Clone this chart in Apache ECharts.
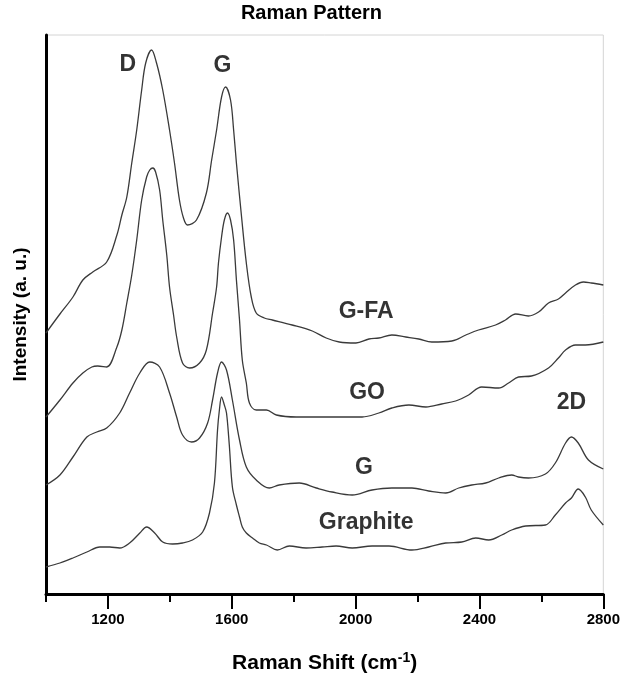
<!DOCTYPE html>
<html>
<head>
<meta charset="utf-8">
<script src="https://cdn.jsdelivr.net/npm/echarts@6/dist/echarts.min.js"></script>
<style>
  html, body { margin: 0; padding: 0; background: #fff; }
  #chart { width: 623px; height: 679px; }
</style>
</head>
<body>
<div id="chart"></div>
<script>
  // raman shift (cm-1), intensity (a.u., curves stacked with an offset)
  var gfa = [
    [1000, 261], [1045, 280], [1087, 297], [1119, 314], [1151, 322], [1196, 332],
    [1229, 359], [1245, 379], [1261, 397], [1277, 431], [1293, 464], [1309, 504],
    [1322, 531], [1341, 544], [1357, 531], [1377, 504], [1399, 464], [1415, 431],
    [1431, 394], [1444, 376], [1457, 369], [1486, 374], [1518, 401], [1535, 434],
    [1551, 464], [1567, 497], [1580, 507], [1596, 494], [1606, 464], [1615, 431],
    [1631, 379], [1647, 331], [1663, 297], [1679, 281], [1705, 276], [1731, 274],
    [1795, 269], [1860, 263], [1905, 256], [1947, 252], [2001, 251], [2043, 255],
    [2075, 256], [2117, 259], [2162, 257], [2204, 255], [2246, 252], [2311, 253],
    [2356, 259], [2397, 264], [2452, 269], [2484, 274], [2517, 280], [2558, 278],
    [2591, 282], [2623, 291], [2655, 295], [2678, 301], [2710, 309], [2736, 312],
    [2761, 311], [2800, 309]
  ];
  var go = [
    [1000, 177], [1045, 194], [1087, 211], [1119, 221], [1148, 227], [1167, 228],
    [1196, 227], [1229, 247], [1245, 264], [1261, 291], [1277, 319], [1293, 354],
    [1309, 394], [1325, 417], [1335, 424], [1345, 426], [1354, 422], [1367, 404],
    [1377, 374], [1390, 339], [1399, 307], [1412, 279], [1422, 257], [1441, 231],
    [1464, 226], [1496, 231], [1518, 244], [1538, 281], [1551, 307], [1557, 331],
    [1567, 357], [1576, 374], [1586, 381], [1596, 374], [1606, 354], [1615, 314],
    [1625, 274], [1634, 234], [1647, 211], [1657, 191], [1679, 184], [1712, 184],
    [1744, 179], [1808, 177], [1914, 177], [2021, 177], [2075, 181], [2117, 186],
    [2172, 189], [2227, 187], [2278, 190], [2323, 193], [2365, 199], [2407, 207],
    [2462, 206], [2494, 211], [2526, 217], [2568, 218], [2623, 226], [2655, 236],
    [2678, 244], [2710, 249], [2742, 249], [2800, 252]
  ];
  var g = [
    [1000, 109], [1045, 119], [1087, 137], [1132, 157], [1164, 162], [1196, 166],
    [1238, 181], [1270, 201], [1303, 221], [1335, 232], [1367, 227], [1399, 201],
    [1422, 177], [1441, 159], [1470, 152], [1496, 156], [1522, 171], [1538, 194],
    [1554, 221], [1567, 232], [1583, 224], [1602, 194], [1625, 154], [1647, 127],
    [1679, 114], [1721, 106], [1753, 109], [1818, 111], [1873, 106], [1924, 102],
    [1989, 99], [2053, 104], [2117, 106], [2182, 106], [2236, 103], [2291, 101],
    [2333, 106], [2375, 109], [2420, 111], [2462, 116], [2504, 119], [2526, 117],
    [2558, 116], [2613, 120], [2645, 131], [2678, 151], [2697, 157], [2719, 151],
    [2752, 134], [2800, 125]
  ];
  var graphite = [
    [1000, 27], [1045, 31], [1087, 36], [1132, 42], [1174, 47], [1206, 47],
    [1238, 46], [1270, 51], [1303, 61], [1325, 67], [1351, 61], [1377, 52],
    [1409, 50], [1441, 51], [1473, 54], [1506, 62], [1528, 81], [1544, 111],
    [1554, 164], [1560, 184], [1567, 197], [1576, 189], [1583, 181], [1592, 149],
    [1602, 107], [1615, 89], [1625, 77], [1634, 67], [1647, 61], [1667, 56],
    [1689, 51], [1712, 49], [1747, 44], [1786, 48], [1840, 46], [1892, 47],
    [1937, 48], [1989, 46], [2053, 48], [2108, 48], [2182, 44], [2236, 47],
    [2291, 51], [2343, 52], [2388, 56], [2430, 54], [2472, 59], [2504, 64],
    [2549, 68], [2613, 69], [2645, 79], [2678, 91], [2697, 96], [2719, 105],
    [2742, 97], [2761, 84], [2800, 69]
  ];

  // text labels in the plot: [shift, intensity, text]
  var notes = [
    [1264, 529, 'D'], [1570, 528, 'G'], [2034, 282, 'G-FA'], [2037, 201, 'GO'],
    [2697, 191, '2D'], [2027, 126, 'G'], [2034, 71, 'Graphite']
  ];

  var tickLabels = ['1000', '1200', '1400', '1600', '1800', '2000', '2200', '2400', '2600', '2800'];

  var font = 'Liberation Sans, Arial, sans-serif';
  var chart = echarts.init(document.getElementById('chart'));

  function line(data) {
    return {
      type: 'line',
      data: data,
      showSymbol: false,
      smooth: 0.35,
      lineStyle: { color: '#3a3a3a', width: 1.3 },
      animation: false
    };
  }

  var series = [line(gfa), line(go), line(g), line(graphite)];
  series.push({
    type: 'scatter',
    symbolSize: 0,
    animation: false,
    data: notes.map(function (n) { return { value: [n[0], n[1]], name: n[2] }; }),
    label: {
      show: true,
      position: 'inside',
      formatter: function (p) { return p.name; },
      color: '#000',
      textBorderWidth: 0,
      fontFamily: font,
      fontWeight: 'bold',
      fontSize: 23
    }
  });

  chart.setOption({
    backgroundColor: '#fff',
    title: {
      text: 'Raman Pattern',
      left: 'center',
      top: -2,
      textStyle: { fontFamily: font, fontWeight: 'bold', fontSize: 20, color: '#000' }
    },
    grid: {
      left: 46, right: 18, top: 35, bottom: 85,
      show: true, borderColor: '#d4d4d4', borderWidth: 1
    },
    xAxis: [
      {
        type: 'value',
        min: 1000, max: 2800, interval: 200,
        axisLine: { lineStyle: { color: '#000', width: 3 } },
        axisTick: { length: 8, lineStyle: { color: '#000', width: 2 } },
        axisLabel: { show: false },
        splitLine: { show: false },
        name: 'Raman Shift (cm{sup|-1})',
        nameLocation: 'middle',
        nameGap: 57,
        nameTextStyle: {
          fontFamily: font, fontWeight: 'bold', fontSize: 21, color: '#000',
          rich: {
            sup: { fontFamily: font, fontWeight: 'bold', fontSize: 14, color: '#000', verticalAlign: 'top', padding: [0, 0, 10, 0] }
          }
        }
      },
      {
        type: 'category',
        data: tickLabels,
        boundaryGap: false,
        position: 'bottom',
        axisLine: { show: false },
        axisTick: {
          interval: function (i) { return i % 2 === 1; },
          length: 15,
          lineStyle: { color: '#000', width: 2 }
        },
        axisLabel: {
          interval: function (i) { return i % 2 === 1; },
          margin: 18,
          fontFamily: font, fontWeight: 'bold', fontSize: 15, color: '#000'
        }
      }
    ],
    yAxis: {
      type: 'value',
      min: 0, max: 559,
      axisLine: { show: true, lineStyle: { color: '#000', width: 3 } },
      axisTick: { show: false },
      axisLabel: { show: false },
      splitLine: { show: false },
      name: 'Intensity (a. u.)',
      nameLocation: 'middle',
      nameGap: 16,
      nameTextStyle: { fontFamily: font, fontWeight: 'bold', fontSize: 19, color: '#000' }
    },
    series: series
  });
</script>
</body>
</html>
